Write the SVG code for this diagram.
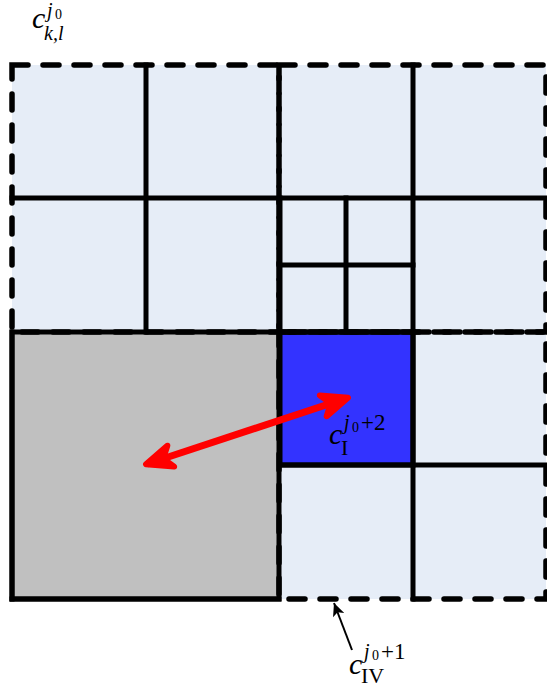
<svg xmlns="http://www.w3.org/2000/svg" width="547" height="689" viewBox="0 0 547 689">
<style>
.sol{stroke:#000;stroke-width:5;stroke-linecap:square}
.dsh{stroke:#000;stroke-width:5.5;fill:none;stroke-dasharray:16 15;stroke-linecap:round}
.lbl{font-family:"Liberation Serif",serif;fill:#000}
.it{font-style:italic}
</style>
<defs>
<marker id="rh" markerUnits="userSpaceOnUse" viewBox="-34 -18 44 36" markerWidth="44" markerHeight="36" refX="0" refY="0" orient="auto-start-reverse">
<path d="M1,0 L-25,-11 L-17,0 L-25,11 Z" fill="#ff0000" stroke="#ff0000" stroke-width="6" stroke-linejoin="round"/>
</marker>
<marker id="bh" markerUnits="userSpaceOnUse" viewBox="-20 -10 24 20" markerWidth="24" markerHeight="20" refX="0" refY="0" orient="auto">
<path d="M0,0 L-13,-6 L-10,0 L-13,6 Z" fill="#000"/>
</marker>
</defs>
<rect x="12" y="65" width="534" height="534" fill="#e6edf7"/>
<g id="cell-gray"><rect x="12" y="332" width="267" height="267" fill="#c0c0c0" class="sol"/></g>
<g id="cell-blue"><rect x="280" y="332" width="133" height="133" fill="#3333ff" class="sol"/></g>
<g id="quad-TL"><rect x="12" y="65" width="267" height="267" class="dsh"/></g>
<g id="quad-TR"><rect x="279" y="65" width="267" height="267" class="dsh"/></g>
<g id="quad-BR"><rect x="279" y="332" width="267" height="267" class="dsh"/></g>
<g id="grid" fill="none">
<line class="sol" x1="146" y1="65" x2="146" y2="332"/>
<line class="sol" x1="12" y1="198" x2="546" y2="198"/>
<line class="sol" x1="413" y1="65" x2="413" y2="599"/>
<line class="sol" x1="280" y1="198" x2="280" y2="332"/>
<line class="sol" x1="346" y1="198" x2="346" y2="332"/>
<line class="sol" x1="280" y1="265" x2="413" y2="265"/>
<line class="sol" x1="280" y1="332" x2="413" y2="332"/>
<line class="sol" x1="280" y1="465" x2="546" y2="465"/>
<line class="sol" x1="12" y1="332" x2="12" y2="599"/>
<line class="sol" x1="12" y1="599" x2="279" y2="599"/>
</g>
<g id="connectors">
<line x1="147" y1="464" x2="347" y2="398" stroke="#ff0000" stroke-width="7" marker-start="url(#rh)" marker-end="url(#rh)"/>
<line x1="352" y1="650" x2="334" y2="603" stroke="#000" stroke-width="2" marker-end="url(#bh)"/>
</g>
<g id="label-ckl">
<text class="lbl"><tspan class="it" x="32" y="28" font-size="30">c</tspan><tspan class="it" x="47" y="17" font-size="20">j</tspan><tspan x="55" y="19" font-size="14">0</tspan><tspan class="it" x="44" y="40" font-size="20">k,l</tspan></text>
</g>
<g id="label-cI">
<text class="lbl"><tspan class="it" x="329" y="444" font-size="30">c</tspan><tspan class="it" x="344" y="429" font-size="20">j</tspan><tspan x="352" y="432" font-size="14">0</tspan><tspan x="361" y="430" font-size="23">+2</tspan><tspan x="341" y="455" font-size="22">I</tspan></text>
</g>
<g id="label-cIV">
<text class="lbl"><tspan class="it" x="349" y="674" font-size="30">c</tspan><tspan class="it" x="364" y="658" font-size="20">j</tspan><tspan x="372" y="660" font-size="14">0</tspan><tspan x="381" y="659" font-size="23">+1</tspan><tspan x="361" y="683" font-size="22">IV</tspan></text>
</g>
</svg>
